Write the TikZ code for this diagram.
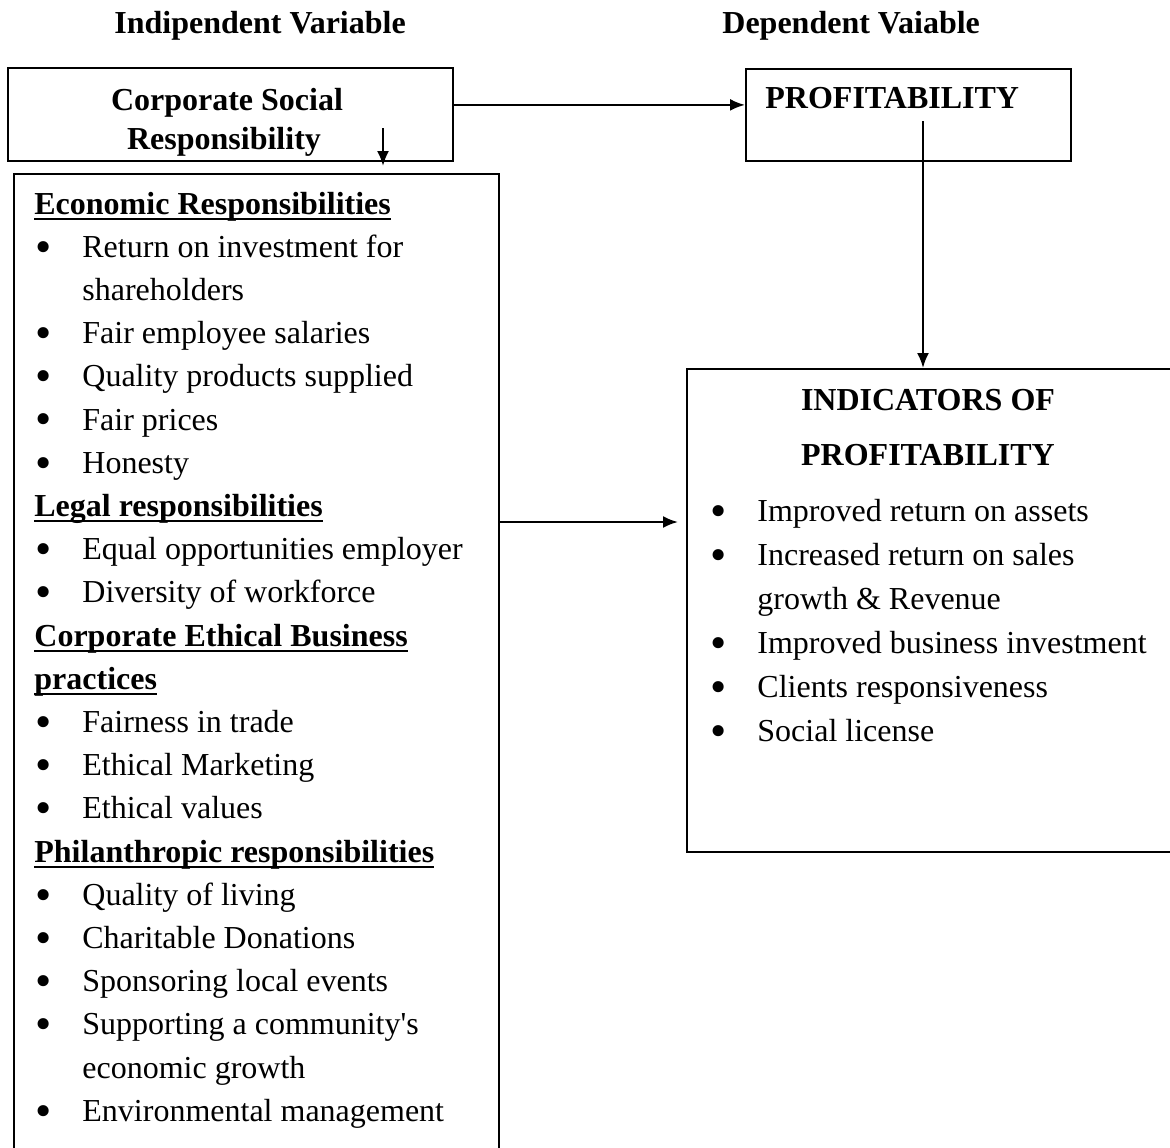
\documentclass[tikz,border=0pt]{standalone}
\usepackage{fontspec}
\usepackage{graphicx}
\setmainfont{Liberation Serif}
\usetikzlibrary{positioning,arrows.meta}

\newsavebox{\ulbox}
\newcommand{\uln}[1]{\sbox{\ulbox}{#1}\rlap{\rule[-2.8pt]{\wd\ulbox}{1.1pt}}\usebox{\ulbox}}
\newcommand{\blt}{\hspace*{0.5pt}\makebox[23.5pt][l]{\smash{\raisebox{-2.4pt}{\scalebox{1.45}{\textbullet}}}}}
\newcommand{\cnt}{\hspace*{24pt}}

\begin{document}
\begin{tikzpicture}[x=0.5pt,y=-0.5pt,
    every node/.style={inner sep=0pt, font=\fontsize{16}{21.6}\selectfont},
    head/.style={font=\fontsize{16}{21.6}\selectfont\bfseries},
    box/.style={draw, line width=0.9pt, anchor=north west},
    arr/.style={->, >={Latex[length=7.5pt,width=6pt]}, line width=1.1pt}]

    \useasboundingbox (0,0) rectangle (1170,1147);

    \node[head, anchor=base west] (indep) at (114,33) {Indipendent Variable};
    \node[head, anchor=base west] (dep) at (722,33) {Dependent Vaiable};

    \node[box, minimum width=222.5pt, minimum height=46.5pt] (csr) at (7,67) {};
    \node[head, anchor=base] (csr1) at (227,110) {Corporate Social};
    \node[head, anchor=base] (csr2) at (224,149) {Responsibility};

    \node[box, minimum width=162.5pt, minimum height=46pt] (prof) at (745,68) {};
    \node[head, anchor=base west] (proflabel) at (765,108) {PROFITABILITY};

    \node[box, minimum width=242.5pt, minimum height=491pt] (lbox) at (13,173) {};
    \node[anchor=north west, align=left] (ltext) at (34,183.5)
    {\strut\uln{\textbf{Economic Responsibilities}}\\
    \blt Return on investment for\\
    \cnt shareholders\\
    \blt Fair employee salaries\\
    \blt Quality products supplied\\
    \blt Fair prices\\
    \blt Honesty\\
    \uln{\textbf{Legal responsibilities}}\\
    \blt Equal opportunities employer\\
    \blt Diversity of workforce\\
    \uln{\textbf{Corporate Ethical Business}}\\
    \uln{\textbf{practices}}\\
    \blt Fairness in trade\\
    \blt Ethical Marketing\\
    \blt Ethical values\\
    \uln{\textbf{Philanthropic responsibilities}}\\
    \blt Quality of living\\
    \blt Charitable Donations\\
    \blt Sponsoring local events\\
    \blt Supporting a community\textquotesingle s\\
    \cnt economic growth\\
    \blt Environmental management};

    \node[box, minimum width=244.5pt, minimum height=241.5pt] (ibox) at (686,368) {};
    \node[head, anchor=base] (ind1) at (928,410) {INDICATORS OF};
    \node[head, anchor=base] (ind2) at (928,465) {PROFITABILITY};
    \node[anchor=north west, align=left, font=\fontsize{16}{22}\selectfont] (itext) at (709,490)
    {\strut\blt Improved return on assets\\
    \blt Increased return on sales\\
    \cnt growth \& Revenue\\
    \blt Improved business investment\\
    \blt Clients responsiveness\\
    \blt Social license};

    % connectors
    \draw[arr] ([yshift=4.75pt]csr.east) -- ([yshift=5pt]prof.west);

    \coordinate (csrdn) at (383,128);
    \coordinate (csrtip) at (383,166);
    \draw[arr] (csrdn) -- (csrtip);

    \coordinate (profdn) at (923,121);
    \draw[arr] (profdn) -- (profdn |- ibox.north);

    \coordinate (midtip) at (678,522);
    \draw[arr] (lbox.east |- midtip) -- (midtip);

\end{tikzpicture}
\end{document}
